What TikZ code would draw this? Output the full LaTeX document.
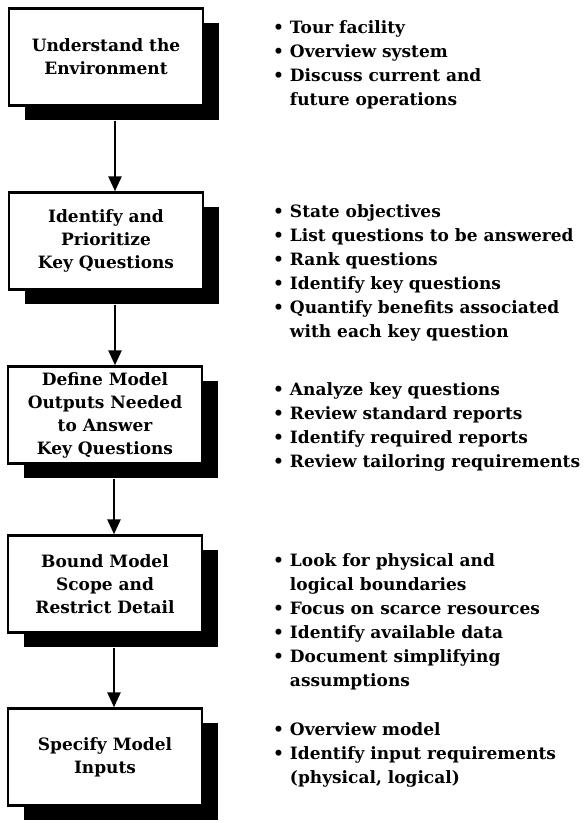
\documentclass[tikz,border=0pt]{standalone}
\usepackage{fontspec}
\setmainfont{DejaVu Serif}
\usetikzlibrary{positioning,arrows.meta,shadows}
\newcommand{\boxtextfont}{\fontsize{17}{23}\selectfont\bfseries}
\newcommand{\bullettextfont}{\fontsize{17}{24}\selectfont\bfseries}
\newcommand{\bul}{\textbullet\ }
\newcommand{\hang}{\phantom{\textbullet}\ }

\begin{document}
\begin{tikzpicture}[x=1pt,y=-1pt,
    stepbox/.style={draw,line width=2.4pt,fill=white,minimum width=194pt,minimum height=97pt,
      inner sep=2pt,align=center,font=\boxtextfont,
      drop shadow={shadow xshift=16pt,shadow yshift=-14pt,fill=black,opacity=1}},
    notes/.style={anchor=base west,align=left,inner sep=0pt,font=\bullettextfont},
    flow/.style={line width=2.6pt,-{Triangle[width=13pt,length=15pt]}}]
  \useasboundingbox (0,0) rectangle (585,823);
  \node[stepbox] (env) at (106,57) {Understand the\\Environment};
  \node[stepbox] (keyq) at (106,241) {Identify and\\Prioritize\\Key Questions};
  \node[stepbox] (outputs) at (105,415) {Define Model\\Outputs Needed\\to Answer\\Key Questions};
  \node[stepbox] (scope) at (105,584) {Bound Model\\Scope and\\Restrict Detail};
  \node[stepbox] (inputs) at (105,757) {Specify Model\\Inputs};
  \foreach \a/\b in {env/keyq,keyq/outputs,outputs/scope,scope/inputs}
    \draw[flow] ([xshift=9pt,yshift=-14pt]\a.south) -- ([xshift=9pt]\a.south |- \b.north);
  % base anchor sits on the last line
  \node[notes] (tour) at (273,105) {\bul Tour facility\\\bul Overview system\\\bul Discuss current and\\\hang future operations};
  \node[notes] (objectives) at (273,337) {\bul State objectives\\\bul List questions to be answered\\\bul Rank questions\\\bul Identify key questions\\\bul Quantify benefits associated\\\hang with each key question};
  \node[notes] (analyze) at (273,467) {\bul Analyze key questions\\\bul Review standard reports\\\bul Identify required reports\\\bul Review tailoring requirements};
  \node[notes] (bounds) at (273,686) {\bul Look for physical and\\\hang logical boundaries\\\bul Focus on scarce resources\\\bul Identify available data\\\bul Document simplifying\\\hang assumptions};
  \node[notes] (overview) at (273,783) {\bul Overview model\\\bul Identify input requirements\\\hang (physical, logical)};
\end{tikzpicture}
\end{document}
